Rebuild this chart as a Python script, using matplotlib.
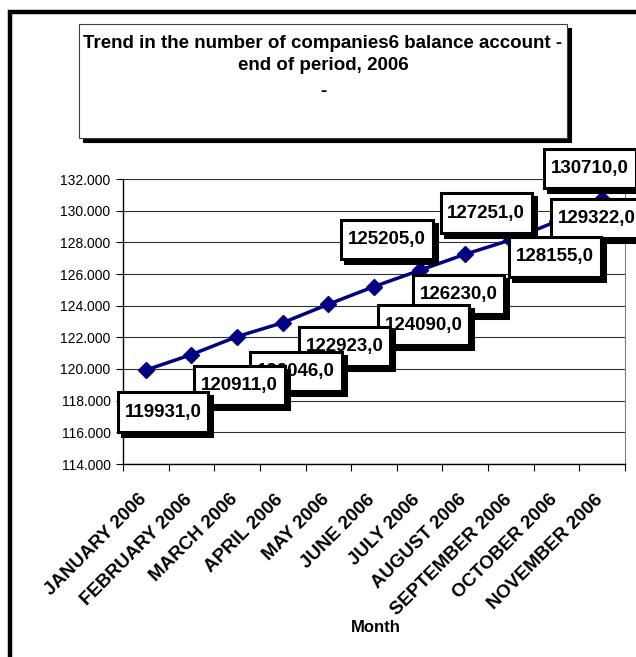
import matplotlib
matplotlib.use("Agg")
import matplotlib.pyplot as plt
from matplotlib.patches import Rectangle
from matplotlib.path import Path
from matplotlib.ticker import FuncFormatter, MultipleLocator, NullFormatter
import matplotlib.transforms as mtrans
import numpy as np

plt.rcParams['font.family'] = ['Liberation Sans', 'DejaVu Sans']

months = ["JANUARY 2006", "FEBRUARY 2006", "MARCH 2006", "APRIL 2006", "MAY 2006",
          "JUNE 2006", "JULY 2006", "AUGUST 2006", "SEPTEMBER 2006", "OCTOBER 2006",
          "NOVEMBER 2006"]
values = [119931, 120911, 122046, 122923, 124090, 125205, 126230, 127251, 128155, 129322, 130710]
value_labels = ["119931,0", "120911,0", "122046,0", "122923,0", "124090,0", "125205,0",
                "126230,0", "127251,0", "128155,0", "129322,0", "130710,0"]
title_lines = ["Trend in the number of companies6 balance account -", "end of period, 2006", "-"]
x_title = "Month"

# label offsets (pixels, right / up) from each data point
label_dx = [17, 48, 59, 62, 95, 13, 39, 21, 44, 40, -12]
label_dy = [-42, -31, -35, -24, -21, 47, -24, 41, -17, 3, 31]

W, H = 636, 657
fig = plt.figure(figsize=(W / 100, H / 100), dpi=100)
fig.patch.set_facecolor('white')


def fx(px):
    return px / W


def fy(py):
    return 1 - py / H


def label_box(x0, y0, width, height, mutation_size):
    px = 0.36 * mutation_size
    py = 0.60 * mutation_size
    a, b = x0 - px, y0 - py
    c, d = x0 + width + px, y0 + height + py
    return Path([(a, b), (c, b), (c, d), (a, d), (a, b)],
                [Path.MOVETO, Path.LINETO, Path.LINETO, Path.LINETO, Path.CLOSEPOLY])


# outer frame
fig.patches.append(Rectangle((fx(10), fy(700)), fx(700), fy(12) - fy(700), transform=fig.transFigure,
                             fill=False, edgecolor='black', lw=3.2, zorder=0))

# title box with shadow
tx0, ty0, tx1, ty1 = 79, 24, 567, 138
fig.patches.append(Rectangle((fx(tx0 + 4), fy(ty1 + 4)), fx(tx1 - tx0), fy(ty0) - fy(ty1),
                             transform=fig.transFigure, facecolor='black', edgecolor='black', lw=0.8, zorder=1))
fig.patches.append(Rectangle((fx(tx0), fy(ty1)), fx(tx1 - tx0), fy(ty0) - fy(ty1),
                             transform=fig.transFigure, facecolor='white', edgecolor='#404040', lw=0.8, zorder=2))
for line, yy in zip(title_lines, [43, 66, 91]):
    fig.text(fx(323), fy(yy), line, ha='center', va='center', fontsize=13.5, fontweight='bold', zorder=3)

ax = fig.add_axes([fx(123), fy(464), fx(625) - fx(123), fy(179) - fy(464)])
x = np.arange(len(values))
ax.plot(x, values, color='#000080', lw=2.5, marker='D', ms=8.5, mec='#000080', mfc='#000080', zorder=5,
        clip_on=False)

ax.set_xlim(-0.5, len(values) - 0.5)
ax.set_ylim(114000, 132000)
ax.yaxis.set_major_locator(MultipleLocator(2000))
ax.yaxis.set_major_formatter(FuncFormatter(lambda v, p: f"{v/1000:.3f}"))
ax.grid(axis='y', color='#303030', lw=0.8)
ax.set_axisbelow(True)

# category labels (rotated), ticks between categories
ax.set_xticks(x)
ax.xaxis.set_major_formatter(NullFormatter())
ax.tick_params(axis='x', which='major', length=0)
lab_tr = mtrans.blended_transform_factory(ax.transData, ax.transAxes) + \
    mtrans.ScaledTranslation(-8 / 100, -27 / 100, fig.dpi_scale_trans)
for xi, m in zip(x, months):
    ax.text(xi, 0, m, transform=lab_tr, rotation=45, ha='right', va='top', rotation_mode='anchor',
            fontsize=13.5, fontweight='bold', clip_on=False)
ax.set_xticks(np.arange(len(values) + 1) - 0.5, minor=True)
ax.tick_params(axis='x', which='minor', length=5, width=0.8, direction='out')
ax.tick_params(axis='y', length=5, width=0.8, labelsize=10, pad=4)
for s in ['left', 'bottom']:
    ax.spines[s].set_color('black')
    ax.spines[s].set_linewidth(1.0)
ax.spines['right'].set_color('#808080')
ax.spines['top'].set_visible(False)

fig.text(fx(376), fy(628), x_title, ha='center', va='center', fontsize=12, fontweight='bold')

n = len(values)
for i in range(n):
    z = 100 - 2 * i
    # shadow
    ax.annotate(value_labels[i], (x[i], values[i]), xytext=(label_dx[i] + 4, label_dy[i] - 4),
                textcoords='offset pixels', ha='center', va='center', fontsize=13.5, fontweight='bold',
                color='black', zorder=z - 0.5, annotation_clip=False,
                bbox=dict(boxstyle=label_box, fc='black', ec='black', lw=2.2))
    ax.annotate(value_labels[i], (x[i], values[i]), xytext=(label_dx[i], label_dy[i]),
                textcoords='offset pixels', ha='center', va='center', fontsize=13.5, fontweight='bold',
                color='black', zorder=z, annotation_clip=False,
                bbox=dict(boxstyle=label_box, fc='white', ec='black', lw=2.2))

fig.savefig("out.png", dpi=100)
